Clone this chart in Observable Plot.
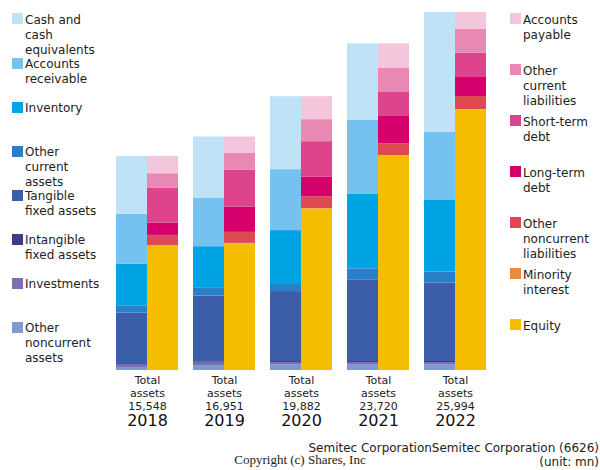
<!DOCTYPE html>
<html>
<head>
<meta charset="utf-8">
<script src="https://cdn.jsdelivr.net/npm/d3@7"></script>
<script src="https://cdn.jsdelivr.net/npm/@observablehq/plot@0.6"></script>
<style>
  body { margin: 0; background: #fff; }
  #wrap { position: relative; width: 600px; height: 470px; font-family: "DejaVu Sans", sans-serif; color: #222; }
  #wrap svg { position: absolute; left: 0; top: 0; }
  .leg { position: absolute; font-size: 12px; line-height: 15px; }
  .sw { position: absolute; width: 11px; height: 11px; }
  .foot { position: absolute; font-size: 12px; line-height: 14px; white-space: nowrap; }
</style>
</head>
<body>
<div id="wrap"></div>
<script>
// ---- data (mn) ----
const years = [2018, 2019, 2020, 2021, 2022];
const totals = [15548, 16951, 19882, 23720, 25994];

// assets (top to bottom in legend)
const cash = [4214, 4429, 5297, 5567, 8713];
const receivables = [3609, 3533, 4427, 5373, 4937];
const inventory = [3027, 3025, 3846, 5397, 5204];
const otherCurrentAssets = [533, 557, 581, 799, 799];
const tangibleFixed = [3729, 4816, 5080, 5929, 5688];
const intangibleFixed = [50, 60, 73, 73, 73];
const investments = [170, 170, 150, 150, 150];
const otherNoncurrentAssets = [216, 361, 428, 432, 430];

// liabilities & equity (top to bottom in legend)
const payables = [1259, 1162, 1669, 1791, 1210];
const otherCurrentLiab = [1041, 1234, 1597, 1694, 1743];
const shortTermDebt = [2543, 2686, 2588, 1791, 1767];
const longTermDebt = [896, 1839, 1403, 1984, 1380];
const otherNoncurrentLiab = [751, 799, 871, 847, 944];
const minorityInterest = [20, 20, 20, 20, 20];
const equity = [9038, 9211, 11734, 15593, 18930];

const assetNames = ["Cash and cash equivalents", "Accounts receivable", "Inventory", "Other current assets",
  "Tangible fixed assets", "Intangible fixed assets", "Investments", "Other noncurrent assets"];
const assetSeries = [cash, receivables, inventory, otherCurrentAssets, tangibleFixed, intangibleFixed, investments, otherNoncurrentAssets];
const assetColors = ["#c0e2f7", "#75c1ef", "#00a3e3", "#2a80c8", "#3c5ea8", "#3f3a8a", "#7f6db0", "#7e9ad0"];

const liabNames = ["Accounts payable", "Other current liabilities", "Short-term debt", "Long-term debt",
  "Other noncurrent liabilities", "Minority interest", "Equity"];
const liabSeries = [payables, otherCurrentLiab, shortTermDebt, longTermDebt, otherNoncurrentLiab, minorityInterest, equity];
const liabColors = ["#f4c6dc", "#e888b3", "#dd448b", "#d5006c", "#dd4a52", "#ef8a3c", "#f4bd00"];

// ---- build stacked rows (bottom-up = reverse of legend order) ----
const barW = 31 / 77; // bar width in year units
const rows = [];
function stack(names, series, side) {
  years.forEach((yr, i) => {
    let base = 0;
    for (let k = names.length - 1; k >= 0; k--) {
      const v = series[k][i];
      rows.push({
        year: yr, name: names[k],
        x1: side === "A" ? yr - barW : yr,
        x2: side === "A" ? yr : yr + barW,
        y1: base, y2: base + v
      });
      base += v;
    }
  });
}
stack(assetNames, assetSeries, "A");
stack(liabNames, liabSeries, "L");

const fmt = d3.format(",");

const chart = Plot.plot({
  width: 600,
  height: 470,
  margin: 0,
  style: { fontFamily: "DejaVu Sans, sans-serif", color: "#222", background: "transparent" },
  x: { type: "linear", domain: [2018, 2022], range: [147, 455], axis: null },
  y: { domain: [0, 25994], range: [370, 12], axis: null },
  color: { domain: [...assetNames, ...liabNames], range: [...assetColors, ...liabColors] },
  marks: [
    Plot.rect(rows, { x1: "x1", x2: "x2", y1: "y1", y2: "y2", fill: "name" }),
    Plot.text(years, {
      x: d => d, y: 0,
      text: (d, i) => `Total\nassets\n${fmt(totals[i])}`,
      lineAnchor: "top", dy: 4, fontSize: 11, lineHeight: 1.18, fill: "#222"
    }),
    Plot.text(years, {
      x: d => d, y: 0, text: d => String(d),
      lineAnchor: "top", dy: 44.5, fontSize: 16, fill: "#111"
    })
  ]
});

const wrap = document.getElementById("wrap");
wrap.appendChild(chart);

// ---- legends ----
const leftLabels = ["Cash and<br>cash<br>equivalents", "Accounts<br>receivable", "Inventory", "Other<br>current<br>assets",
  "Tangible<br>fixed assets", "Intangible<br>fixed assets", "Investments", "Other<br>noncurrent<br>assets"];
const rightLabels = ["Accounts<br>payable", "Other<br>current<br>liabilities", "Short-term<br>debt", "Long-term<br>debt",
  "Other<br>noncurrent<br>liabilities", "Minority<br>interest", "Equity"];

function legend(labels, colors, sx, tx, top, step) {
  labels.forEach((lab, i) => {
    const y = top + i * step;
    const sw = document.createElement("div");
    sw.className = "sw";
    sw.style.left = sx + "px"; sw.style.top = (y + 0.8) + "px"; sw.style.background = colors[i];
    wrap.appendChild(sw);
    const t = document.createElement("div");
    t.className = "leg";
    t.style.left = tx + "px"; t.style.top = y + "px";
    t.innerHTML = lab;
    wrap.appendChild(t);
  });
}
legend(leftLabels, assetColors, 12, 25, 12.6, 44.1);
legend(rightLabels, liabColors, 510, 523, 12.6, 51);

// ---- footer ----
const f1 = document.createElement("div");
f1.className = "foot";
f1.style.right = "1px"; f1.style.top = "441px"; f1.style.textAlign = "right";
f1.innerHTML = "Semitec CorporationSemitec Corporation (6626)<br>(unit: mn)";
wrap.appendChild(f1);
const f2 = document.createElement("div");
f2.className = "foot";
f2.style.left = "0"; f2.style.width = "600px"; f2.style.top = "453px"; f2.style.textAlign = "center";
f2.style.fontFamily = "'Liberation Serif', serif"; f2.style.fontSize = "13px";
f2.textContent = "Copyright (c) Shares, Inc";
wrap.appendChild(f2);
</script>
</body>
</html>
